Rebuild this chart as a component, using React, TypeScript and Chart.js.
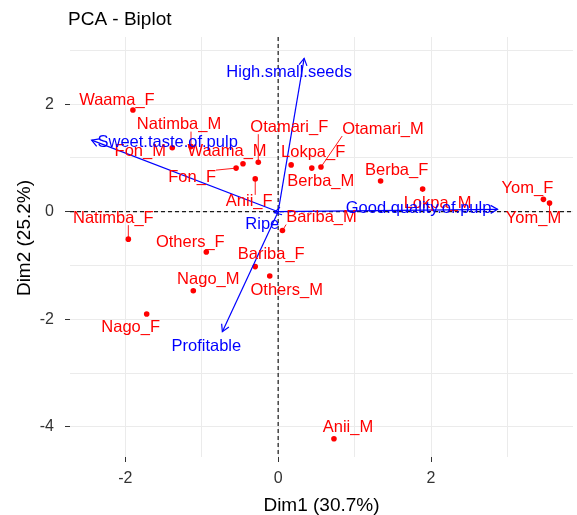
import React, { useEffect, useRef } from 'react';
import { Chart, registerables } from 'chart.js';

Chart.register(...registerables);

// ---- Data ----
const individuals = [
  'Waama_F', 'Natimba_M', 'Fon_M', 'Waama_M', 'Fon_F', 'Otamari_F', 'Anii_F',
  'Lokpa_F', 'Berba_M', 'Otamari_M', 'Berba_F', 'Lokpa_M', 'Yom_F', 'Yom_M',
  'Bariba_M', 'Natimba_F', 'Others_F', 'Bariba_F', 'Others_M', 'Nago_M', 'Nago_F', 'Anii_M',
];
const indDim1 = [
  -1.90, -1.14, -1.385, -0.46, -0.55, -0.26, -0.30,
  0.17, 0.44, 0.56, 1.34, 1.89, 3.47, 3.55,
  0.056, -1.96, -0.94, -0.30, -0.11, -1.11, -1.72, 0.73,
];
const indDim2 = [
  1.89, 1.21, 1.19, 0.89, 0.81, 0.92, 0.61,
  0.87, 0.81, 0.83, 0.57, 0.42, 0.23, 0.16,
  -0.35, -0.51, -0.75, -1.02, -1.195, -1.47, -1.90, -4.22,
];

const variables = ['High.small.seeds', 'Sweet.taste.of.pulp', 'Good.quality.of.pulp', 'Ripe', 'Profitable'];
const varDim1 = [0.34, -2.44, 2.87, -0.05, -0.73];
const varDim2 = [2.85, 1.33, 0.045, -0.02, -2.23];

const xTickLabels = [-2, 0, 2];
const yTickLabels = [-4, -2, 0, 2];

const chartTitle = 'PCA - Biplot';
const xTitle = 'Dim1 (30.7%)';
const yTitle = 'Dim2 (25.2%)';

// ---- Label placement (pixel offsets from each mark, repel-style) ----
const indLabelDx = [-16, -12, -32, -16, -44, 31, -6, 22, 9, 62, 16, 15, -16, -16, 39, -15, -16, 16, 17, 15, -16, 14];
const indLabelDy = [-10, -22, 4, -12, 9, -35, 23, -12, 13, -38, -11, 14, -11, 15, -13, -21, -10, -12, 14, -11, 14, -11];
const varLabelDx = [-15, 76, -79, -12, -16];
const varLabelDy = [14, 2, -1, 12, 15];

const RED = '#FF0000';
const BLUE = '#0000FF';
const FONT = '"Liberation Sans", Arial, sans-serif';

const overlayPlugin = {
  id: 'biplotOverlay',
  beforeDatasetsDraw(chart: any) {
    const { ctx, chartArea: a, scales } = chart;
    const x0 = scales.x.getPixelForValue(0);
    const y0 = scales.y.getPixelForValue(0);
    ctx.save();
    ctx.strokeStyle = '#1a1a1a';
    ctx.lineWidth = 1.2;
    ctx.setLineDash([4, 3]);
    ctx.beginPath();
    ctx.moveTo(x0, a.top);
    ctx.lineTo(x0, a.bottom);
    ctx.moveTo(a.left, y0);
    ctx.lineTo(a.right, y0);
    ctx.stroke();
    ctx.restore();
  },
  afterDatasetsDraw(chart: any) {
    const { ctx, scales } = chart;
    const sx = scales.x, sy = scales.y;
    ctx.save();
    ctx.font = `16.5px ${FONT}`;
    ctx.textAlign = 'center';
    ctx.textBaseline = 'middle';

    // individual labels + repel segments
    individuals.forEach((name, i) => {
      const px = sx.getPixelForValue(indDim1[i]);
      const py = sy.getPixelForValue(indDim2[i]);
      const lx = px + indLabelDx[i];
      const ly = py + indLabelDy[i];
      const w = ctx.measureText(name).width;
      const h = 14;
      const bx = Math.max(lx - w / 2, Math.min(px, lx + w / 2));
      const by = Math.max(ly - h / 2, Math.min(py, ly + h / 2));
      const d = Math.hypot(bx - px, by - py);
      if (d > 7) {
        ctx.strokeStyle = RED;
        ctx.lineWidth = 0.9;
        ctx.beginPath();
        ctx.moveTo(px, py);
        ctx.lineTo(bx, by);
        ctx.stroke();
      }
      ctx.fillStyle = RED;
      ctx.fillText(name, lx, ly);
    });

    // arrowheads + variable labels
    const ox = sx.getPixelForValue(0);
    const oy = sy.getPixelForValue(0);
    variables.forEach((name, i) => {
      const tx = sx.getPixelForValue(varDim1[i]);
      const ty = sy.getPixelForValue(varDim2[i]);
      const ang = Math.atan2(ty - oy, tx - ox);
      const L = 8;
      ctx.strokeStyle = BLUE;
      ctx.lineWidth = 1.2;
      ctx.beginPath();
      ctx.moveTo(tx + L * Math.cos(ang + Math.PI - Math.PI / 6), ty + L * Math.sin(ang + Math.PI - Math.PI / 6));
      ctx.lineTo(tx, ty);
      ctx.lineTo(tx + L * Math.cos(ang + Math.PI + Math.PI / 6), ty + L * Math.sin(ang + Math.PI + Math.PI / 6));
      ctx.stroke();
      ctx.fillStyle = BLUE;
      ctx.fillText(name, tx + varLabelDx[i], ty + varLabelDy[i]);
    });
    ctx.restore();
  },
  afterDraw(chart: any) {
    const { ctx, chartArea: a } = chart;
    ctx.save();
    ctx.font = `19px ${FONT}`;
    ctx.fillStyle = '#000';
    ctx.textAlign = 'left';
    ctx.textBaseline = 'middle';
    ctx.fillText(chartTitle, a.left - 2, 20);
    // y-axis title, rotated
    ctx.translate(25, (a.top + a.bottom) / 2 - 9);
    ctx.rotate(-Math.PI / 2);
    ctx.textAlign = 'center';
    ctx.fillText(yTitle, 0, 0);
    ctx.restore();
  },
};

export default function App() {
  const canvasRef = useRef<HTMLCanvasElement | null>(null);

  useEffect(() => {
    document.body.style.margin = '0';
    const canvas = canvasRef.current;
    if (!canvas) return;

    const pointData = individuals.map((_, i) => ({ x: indDim1[i], y: indDim2[i] }));
    const arrowSets = variables.map((name, i) => ({
      label: name,
      data: [{ x: 0, y: 0 }, { x: varDim1[i], y: varDim2[i] }],
      showLine: true,
      borderColor: BLUE,
      borderWidth: 1.2,
      pointRadius: 0,
      fill: false,
    }));

    const isLabeled = (list: number[], v: number) => list.some((t) => Math.abs(t - v) < 1e-6);

    const chart = new Chart(canvas, {
      type: 'scatter',
      data: {
        datasets: [
          ...arrowSets,
          {
            label: 'individuals',
            data: pointData,
            backgroundColor: RED,
            borderColor: RED,
            pointRadius: 2.8,
            pointBorderWidth: 0,
          },
        ],
      },
      plugins: [overlayPlugin],
      options: {
        responsive: false,
        animation: false,
        devicePixelRatio: 1,
        events: [],
        layout: { padding: { top: 37, right: 2, left: 0, bottom: 0 } },
        plugins: {
          legend: { display: false },
          tooltip: { enabled: false },
          title: { display: false },
        },
        scales: {
          x: {
            type: 'linear',
            min: -2.723,
            max: 3.857,
            afterFit: (scale: any) => { scale.height = 58; },
            border: { display: false },
            grid: {
              color: '#EBEBEB',
              lineWidth: 1,
              drawTicks: true,
              tickLength: 5,
              tickColor: (ctx: any) => (isLabeled(xTickLabels, ctx.tick?.value) ? '#333333' : 'rgba(0,0,0,0)'),
            },
            ticks: {
              stepSize: 1,
              includeBounds: false,
              padding: 7,
              color: '#333333',
              font: { family: FONT, size: 16 },
              callback: (v: any) => (isLabeled(xTickLabels, Number(v)) ? String(v) : ''),
            },
            title: {
              display: true,
              text: xTitle,
              color: '#000',
              font: { family: FONT, size: 19, lineHeight: 1 },
              padding: { top: 0, bottom: 0 },
            },
          },
          y: {
            type: 'linear',
            min: -4.559,
            max: 3.247,
            afterFit: (scale: any) => { scale.width = 70; },
            border: { display: false },
            grid: {
              color: '#EBEBEB',
              lineWidth: 1,
              drawTicks: true,
              tickLength: 5,
              tickColor: (ctx: any) => (isLabeled(yTickLabels, ctx.tick?.value) ? '#333333' : 'rgba(0,0,0,0)'),
            },
            ticks: {
              stepSize: 1,
              includeBounds: false,
              padding: 11,
              color: '#333333',
              font: { family: FONT, size: 16 },
              callback: (v: any) => (isLabeled(yTickLabels, Number(v)) ? String(v) : ''),
            },
            title: { display: false },
          },
        },
      },
    } as any);

    return () => chart.destroy();
  }, []);

  return (
    <div style={{ width: 577, height: 515, background: '#fff' }}>
      <canvas ref={canvasRef} width={577} height={515} style={{ display: 'block' }} />
    </div>
  );
}
